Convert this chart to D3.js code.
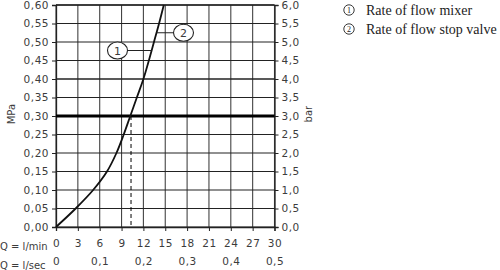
<!DOCTYPE html>
<html>
<head>
<meta charset="utf-8">
<script src="https://cdn.jsdelivr.net/npm/d3@7"></script>
<style>
  body { margin: 0; background: #fff; }
  svg { display: block; }
  .ax text { font-family: "DejaVu Sans", sans-serif; font-size: 10.5px; fill: #3c3c3c; letter-spacing: 0.5px; }
  .ax path, .ax line { stroke: #222; }
  .lbl { font-family: "DejaVu Sans", sans-serif; font-size: 10px; fill: #3c3c3c; }
  .leg { font-family: "Liberation Serif", serif; font-size: 14px; fill: #222; }
</style>
</head>
<body>
<div id="chart"></div>
<script>
// pressure (MPa) -> flow rate (l/min)
const pressure = [0, 0.05, 0.10, 0.15, 0.20, 0.25, 0.30, 0.35, 0.40, 0.45, 0.50, 0.55, 0.60];
const flowMin  = [0, 2.7, 5.1, 7.0, 8.3, 9.3, 10.2, 11.1, 12.0, 12.75, 13.45, 14.15, 14.8];
const mpaTicks = [0, 0.05, 0.10, 0.15, 0.20, 0.25, 0.30, 0.35, 0.40, 0.45, 0.50, 0.55, 0.60];
const barTicks = [0, 0.5, 1, 1.5, 2, 2.5, 3, 3.5, 4, 4.5, 5, 5.5, 6];
const minTicks = [0, 3, 6, 9, 12, 15, 18, 21, 24, 27, 30];
const secTicks = [0, 0.1, 0.2, 0.3, 0.4, 0.5];
const refPressure = 0.30;
const refFlow = 10.3;
const legend = ["Rate of flow mixer", "Rate of flow stop valve"];

const width = 500, height = 270;
const mLeft = 56, mRight = 274.5, mTop = 5, mBottom = 227;

const svg = d3.select('#chart').append('svg')
  .attr('width', width).attr('height', height);

const x = d3.scaleLinear().domain([0, 30]).range([mLeft, mRight]);
const y = d3.scaleLinear().domain([0, 0.6]).range([mBottom, mTop]);
const yBar = d3.scaleLinear().domain([0, 6]).range([mBottom, mTop]);
const xSec = d3.scaleLinear().domain([0, 0.5]).range([mLeft, mRight]);

const comma = (v, n) => v.toFixed(n).replace('.', ',');

// grid
const grid = svg.append('g');
grid.selectAll('line.v').data(minTicks).enter().append('line')
  .attr('x1', d => x(d)).attr('x2', d => x(d))
  .attr('y1', mTop).attr('y2', mBottom)
  .attr('stroke', '#444').attr('stroke-width', 1.1);
grid.selectAll('line.h').data(mpaTicks).enter().append('line')
  .attr('x1', mLeft).attr('x2', mRight)
  .attr('y1', d => y(d)).attr('y2', d => y(d))
  .attr('stroke', '#222')
  .attr('stroke-width', d => Math.abs(d - 0.4) < 1e-9 ? 1.6 : 1.1);

// axes
svg.append('g').attr('class', 'ax')
  .attr('transform', `translate(${mLeft},0)`)
  .call(d3.axisLeft(y).tickValues(mpaTicks).tickSize(4).tickPadding(3).tickFormat(d => comma(d, 2)))
  .call(g => g.select('.domain').attr('stroke-width', 1.3));
svg.append('g').attr('class', 'ax')
  .attr('transform', `translate(${mRight},0)`)
  .call(d3.axisRight(yBar).tickValues(barTicks).tickSize(4).tickPadding(3).tickFormat(d => comma(d, 1)))
  .call(g => g.select('.domain').attr('stroke-width', 1.3));
svg.append('g').attr('class', 'ax')
  .attr('transform', `translate(0,${mBottom})`)
  .call(d3.axisBottom(x).tickValues(minTicks).tickSize(4).tickPadding(9).tickFormat(d => d))
  .call(g => g.select('.domain').attr('stroke-width', 1.3));
svg.append('g').attr('class', 'ax')
  .attr('transform', `translate(0,${mBottom + 21})`)
  .call(d3.axisBottom(xSec).tickValues(secTicks).tickSize(0).tickPadding(10).tickFormat(d => d === 0 ? '0' : comma(d, 1)))
  .call(g => g.select('.domain').remove());
svg.append('line').attr('x1', mLeft).attr('x2', mRight)
  .attr('y1', mTop).attr('y2', mTop).attr('stroke', '#222').attr('stroke-width', 1.3);

// axis titles
svg.append('text').attr('class', 'lbl').attr('x', 0).attr('y', mBottom + 22.5).text('Q = l/min');
svg.append('text').attr('class', 'lbl').attr('x', 0).attr('y', mBottom + 42).text('Q = l/sec');
svg.append('text').attr('class', 'lbl').attr('text-anchor', 'middle')
  .attr('transform', `translate(15,${y(0.305)}) rotate(-90)`).text('MPa');
svg.append('text').attr('class', 'lbl').attr('text-anchor', 'middle')
  .attr('transform', `translate(312,${yBar(3.05)}) rotate(-90)`).text('bar');

// reference line
svg.append('line').attr('x1', mLeft).attr('x2', mRight)
  .attr('y1', y(refPressure)).attr('y2', y(refPressure))
  .attr('stroke', '#000').attr('stroke-width', 3.2);
svg.append('line').attr('x1', x(refFlow)).attr('x2', x(refFlow))
  .attr('y1', y(refPressure)).attr('y2', y(0))
  .attr('stroke', '#000').attr('stroke-width', 1).attr('stroke-dasharray', '4,3');

// curve
const pts = pressure.map((p, i) => [flowMin[i], p]);
svg.append('path').datum(pts)
  .attr('fill', 'none').attr('stroke', '#111').attr('stroke-width', 1.8)
  .attr('d', d3.line().x(d => x(d[0])).y(d => y(d[1])).curve(d3.curveCatmullRom.alpha(0.5)));

// callouts
const callouts = [
  { n: '1', cx: 117.5, p: 0.477, side: -1 },
  { n: '2', cx: 183.5, p: 0.525, side: 1 }
];
const flowAt = d3.scaleLinear().domain(pressure).range(flowMin);
callouts.forEach(c => {
  const cy = y(c.p);
  const cxCurve = x(flowAt(c.p));
  svg.append('line')
    .attr('x1', c.side < 0 ? c.cx + 10 : cxCurve)
    .attr('x2', c.side < 0 ? cxCurve : c.cx - 10)
    .attr('y1', cy).attr('y2', cy).attr('stroke', '#222').attr('stroke-width', 1);
  svg.append('ellipse').attr('cx', c.cx).attr('cy', cy).attr('rx', 10).attr('ry', 8.5)
    .attr('fill', '#fff').attr('stroke', '#222').attr('stroke-width', 1.1);
  svg.append('text').attr('class', 'lbl').attr('x', c.cx).attr('y', cy + 4)
    .attr('text-anchor', 'middle').style('font-size', '11px').text(c.n);
});

// legend
legend.forEach((t, i) => {
  const ly = 10.5 + i * 19;
  svg.append('circle').attr('cx', 349).attr('cy', ly - 0.5).attr('r', 5.2)
    .attr('fill', 'none').attr('stroke', '#222').attr('stroke-width', 0.9);
  svg.append('text').attr('class', 'leg').attr('x', 349).attr('y', ly + 2.5)
    .attr('text-anchor', 'middle').style('font-size', '8px').text(i + 1);
  svg.append('text').attr('class', 'leg').attr('x', 366).attr('y', ly + 4.5).text(t);
});
</script>
</body>
</html>
